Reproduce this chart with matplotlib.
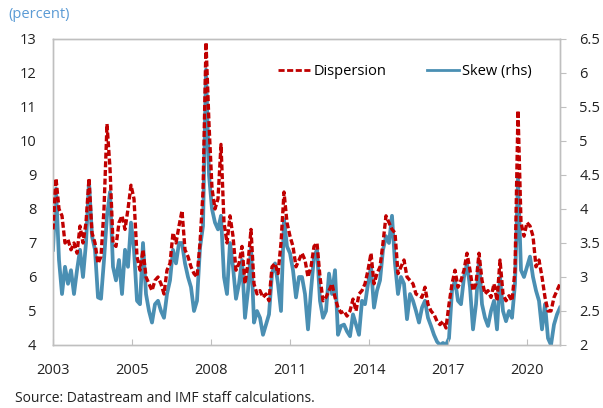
import matplotlib.pyplot as plt
import numpy as np

plt.rcParams['font.family'] = ['Open Sans', 'DejaVu Sans']

years = ['2003', '2005', '2008', '2011', '2014', '2017', '2020']

# equity return dispersion (percent, lhs), roughly every ~5 weeks
dispersion = [7.4, 8.9, 8.0, 7.8, 7.0, 7.1, 6.8, 7.0, 6.7, 7.5, 7.0, 7.6, 8.9, 7.3, 7.0, 6.4,
              6.6, 8.0, 10.5, 9.2, 7.0, 6.9, 7.6, 7.8, 7.4, 8.0, 8.7, 8.3, 6.6, 6.2, 6.8, 6.0,
              5.8, 5.6, 5.9, 6.0, 5.8, 5.5, 6.2, 6.4, 7.3, 7.0, 7.5, 7.95, 6.8, 6.6, 6.3, 6.1,
              6.0, 7.0, 8.5, 12.9, 10.5, 8.6, 8.0, 8.3, 9.9, 7.6, 7.0, 7.8, 7.2, 6.2, 6.4, 6.9,
              5.8, 6.4, 7.4, 5.8, 5.5, 5.6, 5.4, 5.5, 5.3, 6.3, 6.4, 6.1, 7.0, 8.5, 7.6, 7.2,
              6.9, 6.3, 6.5, 6.7, 6.5, 6.0, 6.3, 6.9, 7.0, 6.0, 5.3, 5.4, 5.6, 5.8, 5.4, 5.1,
              4.95, 5.0, 4.85, 5.0, 5.35, 5.0, 5.5, 5.6, 5.8, 6.2, 6.7, 5.8, 6.1, 6.3, 7.0, 7.8,
              7.6, 7.4, 7.3, 6.1, 6.3, 6.5, 6.0, 5.9, 5.8, 5.5, 5.45, 5.4, 5.7, 5.2, 5.0, 4.9,
              4.7, 4.6, 4.7, 4.5, 5.2, 5.8, 6.2, 5.7, 5.9, 6.2, 6.7, 6.2, 5.6, 5.8, 6.7, 5.9,
              5.5, 5.6, 5.4, 5.8, 5.3, 6.5, 5.5, 5.3, 5.45, 5.3, 6.2, 10.9, 7.6, 7.2, 7.6, 7.5,
              7.2, 6.3, 6.5, 6.0, 5.4, 5.0, 5.0, 5.4, 5.6, 5.8]

# skew (rhs)
skew = [3.40, 4.30, 3.25, 2.75, 3.15, 2.90, 3.10, 2.75, 3.10, 3.40, 3.00, 3.50, 4.40, 3.60, 3.40, 2.70,
        2.68, 3.25, 3.90, 4.25, 3.15, 2.95, 3.25, 2.75, 3.40, 3.15, 3.80, 3.40, 2.65, 2.60, 3.50, 2.75,
        2.50, 2.33, 2.60, 2.65, 2.50, 2.40, 2.75, 2.95, 3.40, 3.20, 3.50, 3.50, 3.20, 3.00, 2.85, 2.50,
        2.65, 3.43, 3.75, 6.05, 4.50, 4.00, 3.80, 3.70, 3.90, 3.00, 2.75, 3.50, 3.15, 2.68, 2.90, 3.25,
        2.40, 2.80, 3.43, 2.33, 2.50, 2.40, 2.15, 2.30, 2.45, 3.05, 3.20, 2.90, 2.50, 3.85, 3.45, 3.35,
        3.10, 2.70, 3.00, 3.00, 2.75, 2.23, 2.80, 3.30, 3.40, 2.65, 2.40, 2.50, 3.05, 2.75, 3.10, 2.15,
        2.28, 2.30, 2.20, 2.13, 2.45, 2.30, 2.15, 2.65, 2.60, 2.90, 3.15, 2.55, 2.80, 2.95, 3.40, 3.60,
        3.50, 3.90, 3.20, 2.75, 3.00, 2.90, 2.38, 2.75, 2.65, 2.50, 2.33, 2.55, 2.65, 2.40, 2.28, 2.15,
        2.05, 2.00, 2.03, 2.00, 2.10, 2.80, 2.95, 2.65, 2.60, 3.00, 3.20, 2.85, 2.23, 2.60, 3.25, 2.60,
        2.40, 2.28, 2.50, 2.65, 2.23, 3.00, 2.50, 2.35, 2.50, 2.40, 2.90, 4.45, 3.10, 3.00, 3.15, 3.30,
        3.00, 2.80, 2.65, 2.23, 2.60, 2.10, 2.00, 2.30, 2.45, 2.55]

red = '#c00000'
blue = '#4a8fb3'
grey = '#bfbfbf'

x = np.arange(len(dispersion))
step = 79 / 3  # label every ~26 points

fig = plt.figure(figsize=(6.03, 4.08), dpi=100)
ax = fig.add_axes([53 / 603, 1 - 345 / 408, 507 / 603, 306 / 408])
ax2 = ax.twinx()

ax.plot(x, dispersion, color=red, lw=2.4, dashes=(1.8, 0.8), zorder=3)
ax2.plot(x, skew, color=blue, lw=2.7, zorder=2)
ax.set_zorder(ax2.get_zorder() + 1)
ax.patch.set_visible(False)

ax.set_xlim(0, len(x) - 1)
ax.set_ylim(4, 13)
ax2.set_ylim(2, 6.5)
ax.set_yticks(range(4, 14))
ax2.set_yticks([2, 2.5, 3, 3.5, 4, 4.5, 5, 5.5, 6, 6.5])
ax2.set_yticklabels(['2', '2.5', '3', '3.5', '4', '4.5', '5', '5.5', '6', '6.5'])
ax.set_xticks([i * step for i in range(len(years))])
ax.set_xticklabels(years)

for a in (ax, ax2):
    for s in a.spines.values():
        s.set_color(grey)
        s.set_linewidth(1.0)
ax.tick_params(axis='y', length=0, labelsize=10.5, pad=12, colors='#222222')
ax.tick_params(axis='x', direction='in', length=4, color=grey, labelsize=10.5, pad=13,
               labelcolor='#222222')
ax2.tick_params(axis='y', direction='out', length=4, color=grey, labelsize=10.5, pad=10,
                labelcolor='#222222')

h1, = ax.plot([], [], color=red, lw=2.0, dashes=(2.2, 0.9))
h2, = ax.plot([], [], color=blue, lw=2.0)
fig.legend([h1, h2], ['Dispersion', 'Skew (rhs)'], ncol=2, frameon=False,
           loc='center', bbox_to_anchor=(0.672, 0.824), fontsize=10.5,
           handlelength=2.2, handletextpad=0.2, columnspacing=2.8)

fig.text(8 / 603, 1 - 15 / 408, '(percent)', color='#5b9bd5', fontsize=10.5, va='center')
fig.text(15 / 603, 1 - 398 / 408, 'Source: Datastream and IMF staff calculations.',
         color='#222222', fontsize=10, va='center')

fig.savefig('out.png', dpi=100)
